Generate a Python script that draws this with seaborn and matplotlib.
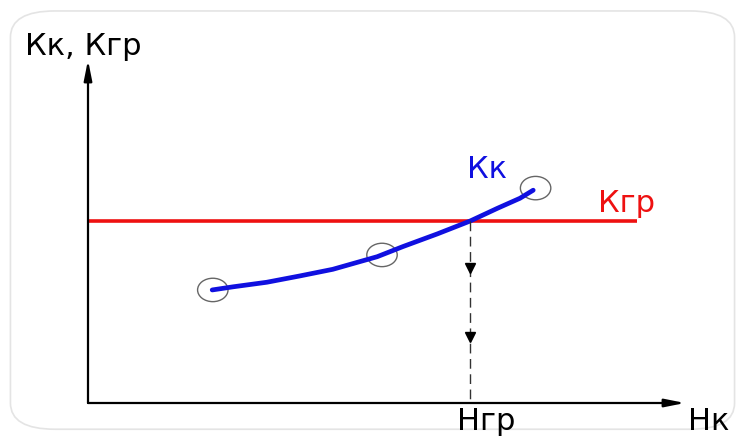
#!/usr/bin/env python3
"""
Schematic: Kk(Hk) curve against the Kgr limit, finding Hgr.
"""

import matplotlib.pyplot as plt
import pandas as pd
import seaborn as sns
from matplotlib.patches import FancyBboxPatch
from matplotlib.path import Path
from matplotlib.transforms import Affine2D

# Kk curve (x = Hk, y = Kk, arbitrary units)
hk = [2.07, 2.42, 2.98, 3.53, 4.08, 4.82, 5.25, 5.82, 6.37, 6.82, 7.20, 7.42]
kk = [3.23, 3.32, 3.45, 3.63, 3.82, 4.18, 4.47, 4.83, 5.20, 5.56, 5.85, 6.08]

# circled measurement points
pt_hk = [2.08, 4.90, 7.46]
pt_kk = [3.23, 4.23, 6.14]

# limit level and its intersection
kgr = 5.20
hgr = 6.37
kgr_end = 9.15
drop_arrows = [3.86, 1.89]

x_axis_end = 9.95
y_axis_end = 9.8

sns.set_theme(style="white")
plt.rcParams["font.family"] = ["DejaVu Sans"]

fig = plt.figure(figsize=(7.45, 4.38), dpi=100)
fig.patch.set_facecolor("white")
card = FancyBboxPatch(
    (0.014, 0.02), 0.972, 0.955,
    boxstyle="round,pad=0,rounding_size=0.06",
    transform=fig.transFigure, facecolor="white", edgecolor="#e4e4e4", lw=1.2,
    zorder=-10,
)
fig.patches.append(card)

ax = fig.add_axes([0, 0, 1, 1])
ax.set_zorder(5)
ax.set_xlim(-88 / 60, (745 - 88) / 60)
ax.set_ylim(-(438 - 403) / 35, 403 / 35)
ax.axis("off")
ax.patch.set_alpha(0)

# axes with arrows
arrow = dict(arrowstyle="-|>,head_length=1.0,head_width=0.2", color="black", lw=1.6,
             shrinkA=0, shrinkB=0)
ax.annotate("", xy=(x_axis_end, 0), xytext=(0, 0), arrowprops=arrow)
ax.annotate("", xy=(0, y_axis_end), xytext=(0, 0), arrowprops=arrow)

# Kgr level
ax.plot([0, kgr_end], [kgr, kgr], color="#ee1111", lw=2.6, solid_capstyle="butt")

# Kk curve
curve = pd.DataFrame({"hk": hk, "kk": kk})
sns.lineplot(data=curve, x="hk", y="kk", ax=ax, color="#1010e0", lw=3.4, sort=False)

# circled points (slightly flattened rings, as in the sketch)
ring = Affine2D().scale(1.3, 1.0).transform_path(Path.unit_circle())
sns.scatterplot(x=pt_hk, y=pt_kk, ax=ax, marker=ring, s=480, facecolor="none",
                edgecolor="#666666", linewidth=1.0)

# projection down to Hgr
ax.plot([hgr, hgr], [kgr, 0], color="#333333", lw=1.0, ls=(0, (7, 4)))
ax.plot([hgr] * len(drop_arrows), drop_arrows, ls="none", marker="v",
        markersize=7, color="black")

fs = 22
txt = dict(fontsize=fs, ha="left", va="baseline")
ax.text(-1.05, 9.94, "Кк, Кгр", color="black", **txt)
ax.text(10.0, -0.77, "Нк", color="black", **txt)
ax.text(6.15, -0.77, "Нгр", color="black", **txt)
ax.text(6.31, 6.43, "Кк", color="#1010e0", **txt)
ax.text(8.5, 5.46, "Кгр", color="#ee1111", **txt)

fig.savefig("out.png", dpi=100)
plt.close(fig)
